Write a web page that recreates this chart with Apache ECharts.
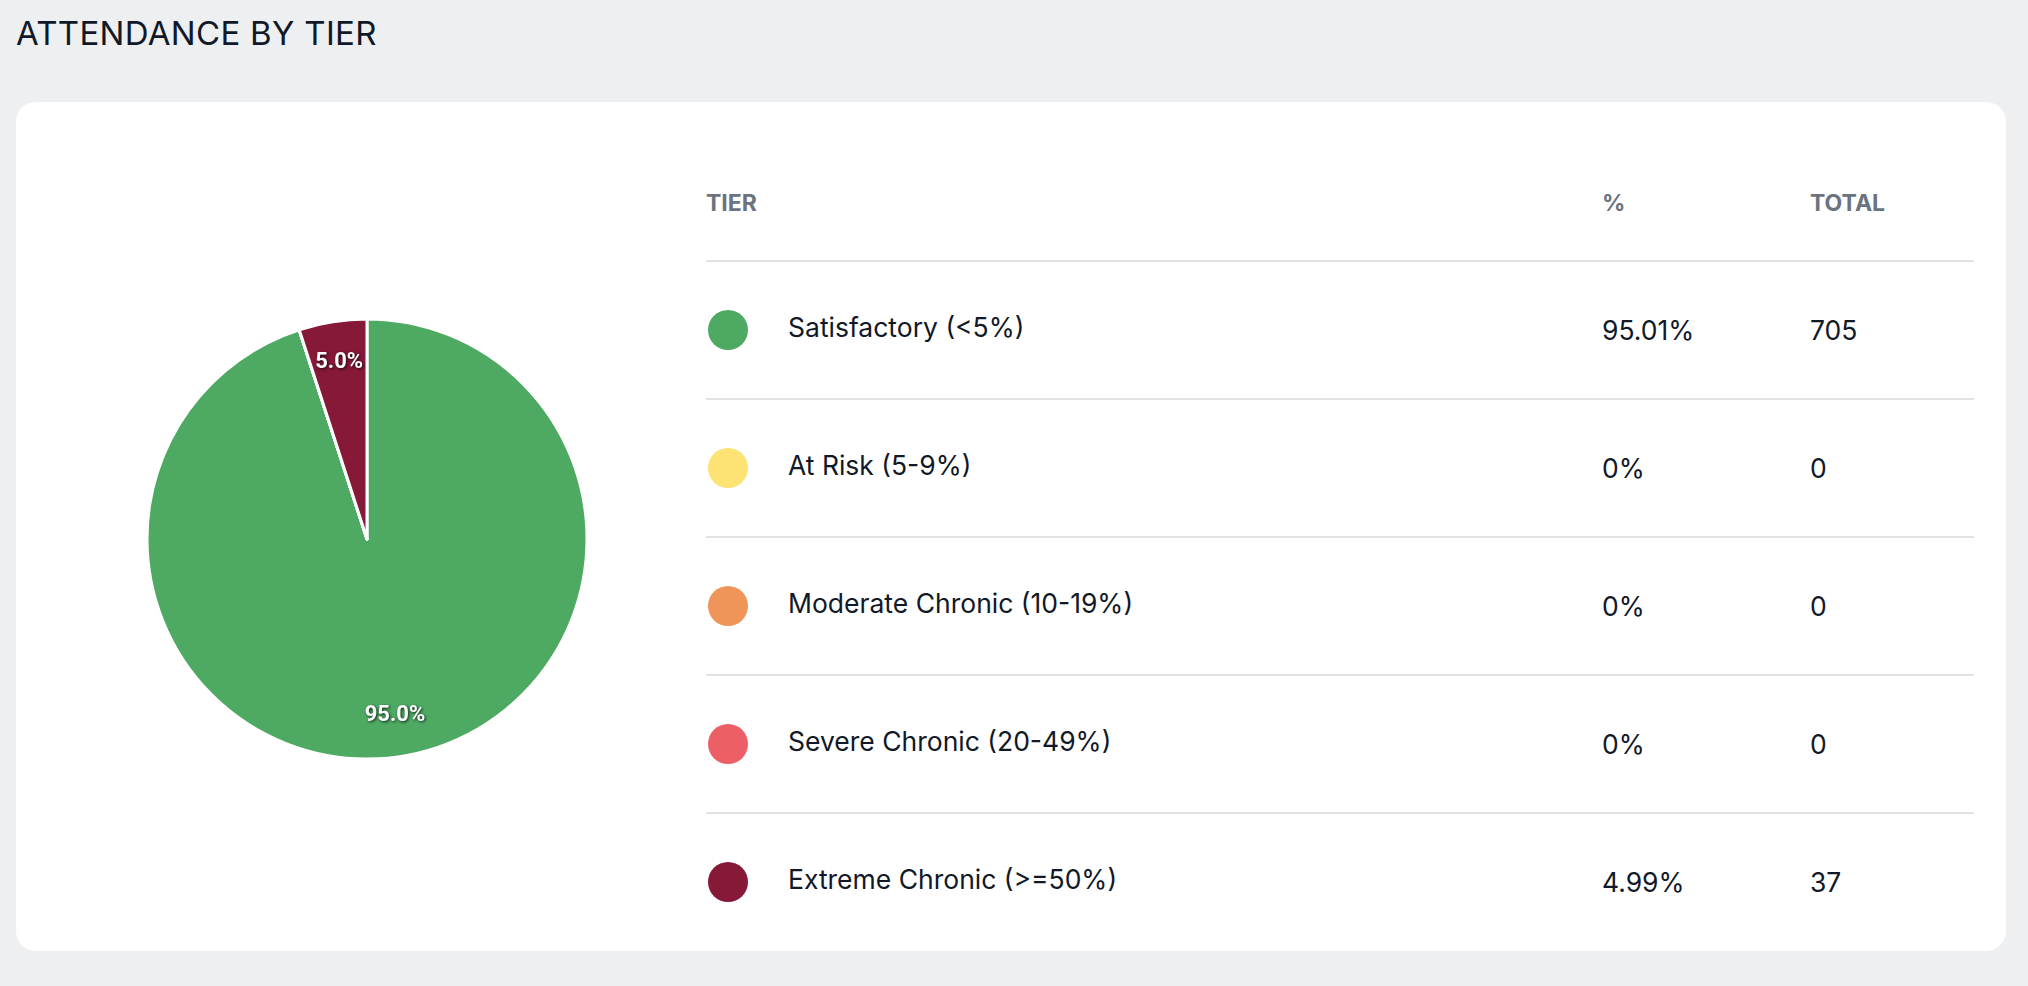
<!DOCTYPE html>
<html>
<head>
<meta charset="utf-8">
<script src="https://cdn.jsdelivr.net/npm/echarts@6/dist/echarts.min.js"></script>
<style>
  html, body { margin: 0; padding: 0; background: #eeeff1; font-family: Inter, 'Noto Sans', sans-serif; }
  .title { position: absolute; left: 16px; top: 13px; font-size: 33px; color: #111827; letter-spacing: 0.3px; }
  .card { position: absolute; left: 16px; top: 102px; width: 1990px; height: 849px; background: #fff; border-radius: 20px; }
  #chart { position: absolute; left: 0; top: 0; width: 690px; height: 849px; }
  table { position: absolute; left: 690px; top: 44px; width: 1268px; border-collapse: collapse; }
  th { text-align: left; font-size: 23px; font-weight: 700; color: #6b7280; height: 114px; padding: 0; border-bottom: 2px solid #e1e2e5; vertical-align: middle; }
  td { font-size: 26.5px; color: #111827; height: 136px; padding: 0; border-bottom: 2px solid #e1e2e5; vertical-align: middle; }
  tr:last-child td { border-bottom: none; }
  .dot { display: inline-block; width: 40px; height: 40px; border-radius: 50%; vertical-align: middle; margin: 0 40px 0 2px; }
</style>
</head>
<body>
<div class="title">ATTENDANCE BY TIER</div>
<div class="card">
  <div id="chart"></div>
  <table id="tbl"></table>
</div>
<script>
  var tiers = ['Satisfactory (<5%)', 'At Risk (5-9%)', 'Moderate Chronic (10-19%)', 'Severe Chronic (20-49%)', 'Extreme Chronic (>=50%)'];
  var totals = [705, 0, 0, 0, 37];
  var percents = ['95.01%', '0%', '0%', '0%', '4.99%'];
  var colors = ['#4eaa63', '#fce373', '#f0955a', '#ec5f67', '#861838'];

  // table
  var html = '<tr><th style="width:896px">TIER</th><th style="width:208px">%</th><th>TOTAL</th></tr>';
  tiers.forEach(function (t, i) {
    html += '<tr><td><span class="dot" style="background:' + colors[i] + '"></span>' +
      t.replace(/</g, '&lt;').replace(/>/g, '&gt;') + '</td><td>' + percents[i] + '</td><td>' + totals[i] + '</td></tr>';
  });
  document.getElementById('tbl').innerHTML = html;

  var data = tiers.map(function (t, i) { return { name: t, value: totals[i], itemStyle: { color: colors[i] } }; });
  var sum = totals.reduce(function (a, b) { return a + b; }, 0);
  var chart = echarts.init(document.getElementById('chart'));
  chart.setOption({
    animation: false,
    series: [
      {
        type: 'pie',
        center: [351, 437],
        radius: [0, 220],
        startAngle: 90,
        clockwise: true,
        minShowLabelAngle: 1,
        stillShowZeroSum: false,
        itemStyle: { borderColor: '#fff', borderWidth: 3 },
        label: { show: false },
        labelLine: { show: false },
        data: data
      },
      {
        // label-only ring so labels sit near the outer edge
        type: 'pie',
        center: [351, 437],
        radius: [130, 222],
        startAngle: 90,
        clockwise: true,
        silent: true,
        minShowLabelAngle: 1,
        itemStyle: { color: 'transparent' },
        label: {
          show: true,
          position: 'inside',
          color: '#fff',
          fontFamily: 'Roboto, sans-serif',
          fontWeight: 'bold',
          fontSize: 22,
          textShadowColor: 'rgba(0,0,0,0.8)',
          textShadowBlur: 3,
          textShadowOffsetX: 1,
          textShadowOffsetY: 1,
          formatter: function (p) { return p.value ? (p.value / sum * 100).toFixed(1) + '%' : ''; }
        },
        labelLine: { show: false },
        data: tiers.map(function (t, i) { return { name: t, value: totals[i] }; })
      }
    ]
  });
</script>
</body>
</html>
